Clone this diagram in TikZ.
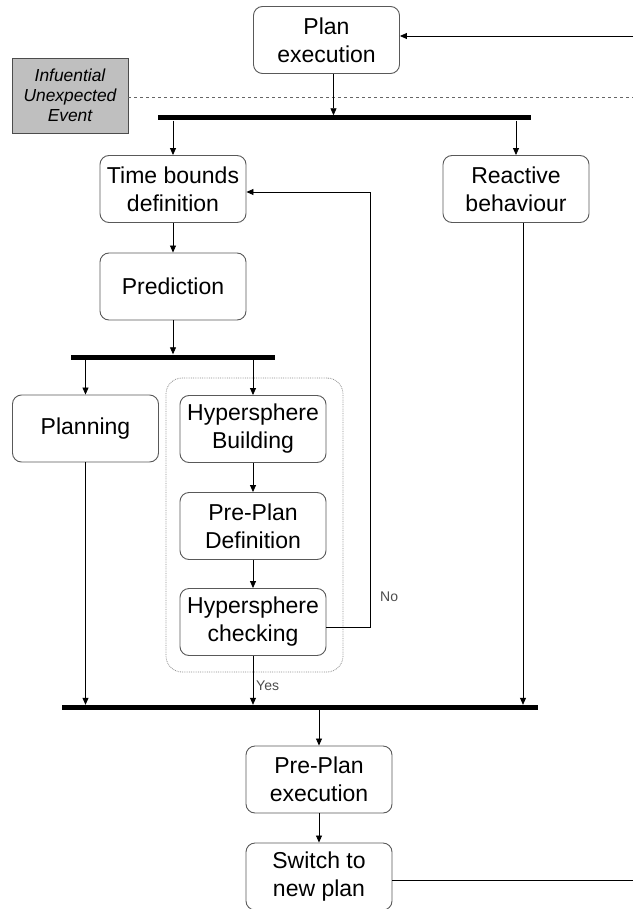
\documentclass[tikz,border=0pt]{standalone}
\usepackage{fontspec}
\setmainfont{Liberation Sans}
\usetikzlibrary{arrows.meta,calc}
\tikzset{
  stepbox/.style={draw=black!65, line width=0.9pt, rounded corners=9pt,
    minimum width=146pt, minimum height=67pt, align=center, inner sep=0pt,
    font=\fontsize{23}{28}\selectfont},
  event/.style={draw=black!70, fill=black!25, line width=0.9pt,
    minimum width=116pt, minimum height=75pt, align=center, inner sep=0pt,
    font=\fontsize{17.4}{20}\selectfont\itshape},
  syncbar/.style={fill=black, inner sep=0pt, minimum height=5pt},
  flow/.style={line width=0.8pt, -{Triangle[length=7pt,width=6pt]}},
  plain/.style={line width=0.8pt},
  group/.style={draw=black!45, densely dotted, line width=0.8pt, rounded corners=16pt,
    inner sep=0pt},
  tag/.style={font=\fontsize{14}{16}\selectfont, text=black!70, inner sep=0pt}
}
\begin{document}
\begin{tikzpicture}[x=1pt,y=-1pt]
\useasboundingbox (0,0) rectangle (633,909);

% event and its trigger line
\node[event] (event) at (70,95.5) {Infuential\\Unexpected\\Event};
\coordinate (dashend) at (633,97);
\draw[dashed, line width=0.6pt, black!60] (event.east |- dashend) -- (dashend);

% grouping of the hypersphere steps
\node[group, minimum width=177pt, minimum height=294pt] (grp) at (254.5,525) {};

% steps
\node[stepbox] (plan) at (326.5,40) {Plan\\execution};
\node[stepbox] (tb) at (173,189) {Time bounds\\definition};
\node[stepbox] (pred) at (173,286.5) {Prediction};
\node[stepbox] (react) at (516,189) {Reactive\\behaviour};
\node[stepbox] (planning) at (85.5,428.5) {Planning};
\node[stepbox] (hb) at (253,429) {Hypersphere\\Building};
\node[stepbox] (ppd) at (253,526) {Pre-Plan\\Definition};
\node[stepbox] (hc) at (253,622) {Hypersphere\\checking};
\node[stepbox] (ppe) at (319,779.5) {Pre-Plan\\execution};
\node[stepbox] (sw) at (319,876.5) {Switch to\\new plan};

% synchronisation bars
\node[syncbar, minimum width=373pt] (bar1) at (344.5,118) {};
\node[syncbar, minimum width=204pt] (bar2) at (173,357) {};
\node[syncbar, minimum width=476pt] (bar3) at (300,707.5) {};

% loop ends at the picture border
\coordinate (loopin) at (633,36);
\coordinate (loopout) at (633,880);

% connectors
\draw[flow] (loopin) -- (plan.east |- loopin);
\draw[flow] ([xshift=7pt]plan.south) -- ([xshift=7pt]plan.south |- bar1.north);
\draw[flow] (bar1.south -| tb.north) -- (tb.north);
\draw[flow] (bar1.south -| react.north) -- (react.north);
\draw[flow] (tb) -- (pred);
\draw[flow] (pred.south) -- (pred.south |- bar2.north);
\draw[flow] (bar2.south -| planning.north) -- (planning.north);
\draw[flow] (bar2.south -| hb.north) -- (hb.north);
\draw[flow] (hb) -- (ppd);
\draw[flow] (ppd) -- (hc);
\draw[flow] ([yshift=-5pt]hc.east) -- ++(44,0) |- ([yshift=-3pt]tb.east);
\draw[flow] (planning.south) -- (planning.south |- bar3.north);
\draw[flow] (hc.south) -- (hc.south |- bar3.north);
\draw[flow] ([xshift=7pt]react.south) -- ([xshift=7pt]react.south |- bar3.north);
\draw[flow] (bar3.south -| ppe.north) -- (ppe.north);
\draw[flow] (ppe) -- (sw);
\draw[plain] (sw.east |- loopout) -- (loopout);

% branch labels
\node[tag, anchor=west] (no) at (380,597) {No};
\node[tag, anchor=west] (yes) at (256,686) {Yes};
\end{tikzpicture}
\end{document}
